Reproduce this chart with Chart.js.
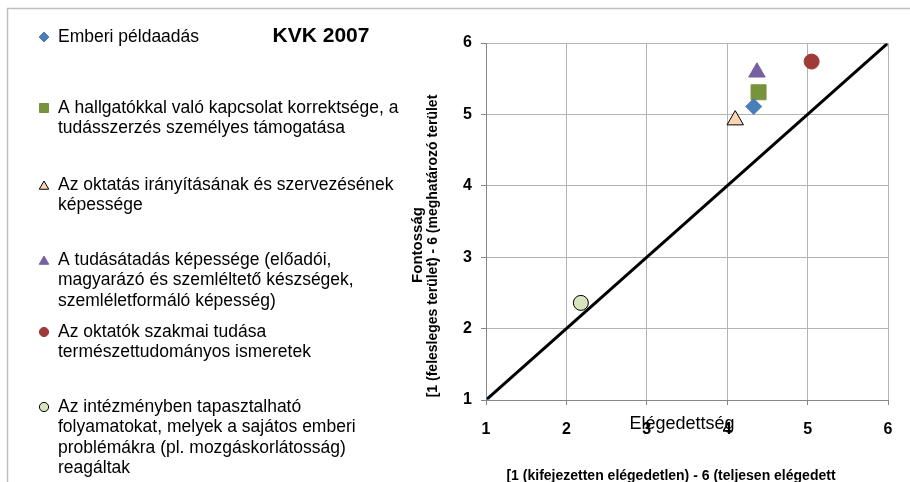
<!DOCTYPE html>
<html lang="hu">
<head>
<meta charset="utf-8">
<title>KVK 2007</title>
<script src="https://cdn.jsdelivr.net/npm/chart.js@4.4.0/dist/chart.umd.min.js"></script>
<style>
  html, body { margin: 0; padding: 0; background: #fff; }
  #wrap { position: relative; width: 910px; height: 482px; }
</style>
</head>
<body>
<div id="wrap"><canvas id="kvk-chart" width="910" height="482"></canvas></div>
<script>
'use strict';

// legend texts, already broken into the lines of the original
const seriesLabels = [
  ['Emberi példaadás'],
  ['A hallgatókkal való kapcsolat korrektsége, a', 'tudásszerzés személyes támogatása'],
  ['Az oktatás irányításának és szervezésének', 'képessége'],
  ['A tudásátadás képessége (előadói,', 'magyarázó és szemléltető készségek,', 'szemléletformáló képesség)'],
  ['Az oktatók szakmai tudása', 'természettudományos ismeretek'],
  ['Az intézményben tapasztalható', 'folyamatokat, melyek a sajátos emberi', 'problémákra (pl. mozgáskorlátosság)', 'reagáltak']
];

// Elégedettség (x) and Fontosság (y) per series
const satisfaction = [4.33, 4.39, 4.10, 4.37, 5.05, 2.18];
const importance = [5.11, 5.31, 4.92, 5.59, 5.74, 2.36];

// reference diagonal
const diagonalX = [1, 6];
const diagonalY = [1, 6];

const tickValues = [1, 2, 3, 4, 5, 6];

const chartTitle = 'KVK 2007';
const xTitle = 'Elégedettség';
const xSubTitle = '[1 (kifejezetten elégedetlen) - 6 (teljesen elégedett';
const yTitle = 'Fontosság';
const ySubTitle = '[1 (felesleges terület) - 6 (meghatározó terület';

const markerStyles = [
  { pointStyle: 'rectRot', radius: 8, fill: '#4A7EBB', border: '#4A7EBB', width: 1, legendRadius: 5 },
  { pointStyle: 'rect', radius: 10.6, fill: '#77933C', border: '#77933C', width: 1, legendRadius: 6.4 },
  { pointStyle: 'triangle', radius: 9.5, fill: '#FCD5B5', border: '#000000', width: 1, legendRadius: 5.5 },
  { pointStyle: 'triangle', radius: 9.5, fill: '#7660A0', border: '#7660A0', width: 1, legendRadius: 5.5 },
  { pointStyle: 'circle', radius: 7.5, fill: '#9E3A38', border: '#9E3A38', width: 1, legendRadius: 4.6 },
  { pointStyle: 'circle', radius: 7.5, fill: '#D7E4BD', border: '#000000', width: 1, legendRadius: 4.6 }
];

// first-line centre of each legend entry
const legendRows = [37, 108, 185, 260, 332, 407];
const legendLineHeight = 20.5;

const FONT = '"Liberation Sans", Arial, sans-serif';

const datasets = seriesLabels.map(function (lines, i) {
  const st = markerStyles[i];
  return {
    label: lines.join(' '),
    data: [{ x: satisfaction[i], y: importance[i] }],
    pointStyle: st.pointStyle,
    pointRadius: st.radius,
    pointHoverRadius: st.radius,
    backgroundColor: st.fill,
    borderColor: st.border,
    borderWidth: st.width,
    showLine: false
  };
});

datasets.push({
  label: 'diagonal',
  type: 'line',
  data: diagonalX.map(function (x, i) { return { x: x, y: diagonalY[i] }; }),
  borderColor: '#000000',
  borderWidth: 3,
  pointStyle: 'cross',
  pointRadius: 4,
  pointBorderColor: '#8AA8DC',
  pointBorderWidth: 1,
  pointBackgroundColor: '#8AA8DC',
  showLine: true,
  fill: false,
  tension: 0
});

const decorPlugin = {
  id: 'decor',
  afterDraw: function (chart) {
    const ctx = chart.ctx;
    const area = chart.chartArea;
    ctx.save();

    // outer frame
    ctx.strokeStyle = '#BFBFBF';
    ctx.lineWidth = 1.5;
    ctx.beginPath();
    ctx.moveTo(7.5, 490);
    ctx.lineTo(7.5, 8.5);
    ctx.lineTo(920, 8.5);
    ctx.stroke();

    // title
    ctx.fillStyle = '#000';
    ctx.font = 'bold 21px ' + FONT;
    ctx.textAlign = 'center';
    ctx.textBaseline = 'middle';
    ctx.fillText(chartTitle, 321, 36);

    // legend
    ctx.font = '17.5px ' + FONT;
    ctx.textAlign = 'left';
    seriesLabels.forEach(function (lines, i) {
      const st = markerStyles[i];
      const y0 = legendRows[i];
      ctx.fillStyle = st.fill;
      ctx.strokeStyle = st.border;
      ctx.lineWidth = st.width;
      Chart.helpers.drawPoint(ctx, {
        pointStyle: st.pointStyle,
        radius: st.legendRadius,
        borderWidth: st.width,
        rotation: 0
      }, 44, st.pointStyle === 'triangle' ? y0 + 1.5 : y0);
      ctx.fillStyle = '#000';
      lines.forEach(function (line, j) {
        ctx.fillText(line, 58, y0 + j * legendLineHeight);
      });
    });

    // x axis titles
    const cx = (area.left + area.right) / 2 - 5;
    ctx.textAlign = 'center';
    ctx.font = '18px ' + FONT;
    ctx.fillText(xTitle, cx, 424);
    ctx.font = 'bold 14px ' + FONT;
    ctx.fillText(xSubTitle, 671, 476);

    // y axis titles
    ctx.save();
    ctx.translate(418, 245);
    ctx.rotate(-Math.PI / 2);
    ctx.font = 'bold 15px ' + FONT;
    ctx.fillText(yTitle, 0, 0);
    ctx.restore();
    ctx.save();
    ctx.translate(433, 246);
    ctx.rotate(-Math.PI / 2);
    ctx.font = 'bold 14px ' + FONT;
    ctx.fillText(ySubTitle, 0, 0);
    ctx.restore();

    ctx.restore();
  }
};

const axisGrid = {
  color: '#B3B3B3',
  lineWidth: 1,
  drawTicks: true,
  tickLength: 5,
  tickColor: '#868686'
};

new Chart(document.getElementById('kvk-chart').getContext('2d'), {
  type: 'scatter',
  data: { datasets: datasets },
  options: {
    responsive: false,
    animation: false,
    layout: { padding: { left: 0, top: 43, right: 22, bottom: 0 } },
    plugins: {
      legend: { display: false },
      tooltip: { enabled: false },
      title: { display: false }
    },
    scales: {
      x: {
        type: 'linear',
        min: tickValues[0],
        max: tickValues[tickValues.length - 1],
        afterBuildTicks: function (scale) {
          scale.ticks = tickValues.map(function (v) { return { value: v }; });
        },
        afterFit: function (scale) { scale.height = 82; },
        grid: axisGrid,
        border: { color: '#868686', width: 1 },
        ticks: {
          padding: 15,
          color: '#000',
          font: { family: FONT, size: 16, weight: 'bold' }
        }
      },
      y: {
        type: 'linear',
        min: tickValues[0],
        max: tickValues[tickValues.length - 1],
        afterBuildTicks: function (scale) {
          scale.ticks = tickValues.map(function (v) { return { value: v }; });
        },
        afterFit: function (scale) { scale.width = 486; },
        grid: axisGrid,
        border: { color: '#868686', width: 1 },
        ticks: {
          padding: 9,
          color: '#000',
          font: { family: FONT, size: 16, weight: 'bold' }
        }
      }
    }
  },
  plugins: [decorPlugin]
});
</script>
</body>
</html>
